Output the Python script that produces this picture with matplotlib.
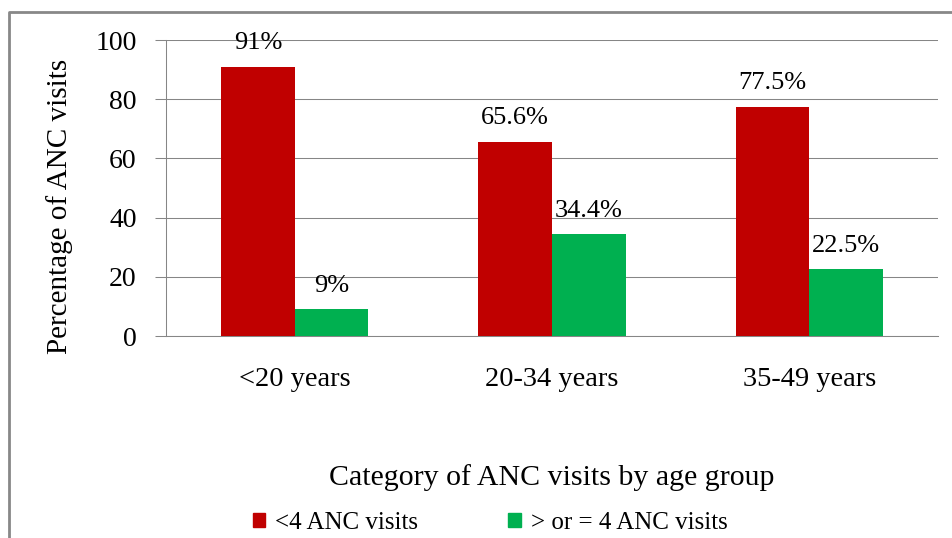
import matplotlib
matplotlib.use("Agg")
import matplotlib.pyplot as plt
from matplotlib.lines import Line2D
from matplotlib.patches import Patch
import numpy as np

# data
age_groups = ['<20 years', '20-34 years', '35-49 years']
less_than_4 = [91, 65.6, 77.5]
four_or_more = [9, 34.4, 22.5]
labels_less = ['91%', '65.6%', '77.5%']
labels_more = ['9%', '34.4%', '22.5%']
yticks = [0, 20, 40, 60, 80, 100]

red = '#C00000'
green = '#00B050'
grid_gray = '#868686'

plt.rcParams['font.family'] = ['Liberation Serif', 'DejaVu Serif']

W, H = 953, 538
fig = plt.figure(figsize=(W / 100, H / 100), dpi=100)
ax = fig.add_axes([166 / W, 1 - 336 / H, (938 - 166) / W, (336 - 40) / H])

x = np.arange(len(age_groups))
bw = 0.286
bars1 = ax.bar(x - bw / 2, less_than_4, bw, color=red, zorder=3)
bars2 = ax.bar(x + bw / 2, four_or_more, bw, color=green, zorder=3)

for bar, lab in zip(bars1, labels_less):
    ax.annotate(lab, (bar.get_x() + bar.get_width() / 2, bar.get_height()),
                xytext=(0, 17), textcoords='offset points',
                ha='center', va='center', fontsize=19)
for bar, lab in zip(bars2, labels_more):
    ax.annotate(lab, (bar.get_x() + bar.get_width() / 2, bar.get_height()),
                xytext=(0, 17), textcoords='offset points',
                ha='center', va='center', fontsize=19)

ax.set_xlim(-0.5, len(age_groups) - 0.5)
ax.set_ylim(0, 100)
ax.set_yticks(yticks)
ax.set_xticks(x)
ax.set_xticklabels(age_groups)
ax.tick_params(axis='y', length=8, width=0.75, color=grid_gray, pad=13, labelsize=20)
ax.tick_params(axis='x', length=0, pad=22, labelsize=20.5)
ax.grid(axis='y', color=grid_gray, linewidth=0.75, zorder=0)
for side in ['top', 'right']:
    ax.spines[side].set_visible(False)
for side in ['left', 'bottom']:
    ax.spines[side].set_color(grid_gray)
    ax.spines[side].set_linewidth(0.75)

fig.text(60 / W, 1 - 206 / H, 'Percentage of ANC visits', rotation=90,
         ha='center', va='center', fontsize=21)
fig.text(552 / W, 1 - 478 / H, 'Category of ANC visits by age group',
         ha='center', va='center', fontsize=21.5)

handles = [Patch(color=red), Patch(color=green)]
fig.legend(handles, ['<4 ANC visits', '> or = 4 ANC visits'],
           loc='center', bbox_to_anchor=(490 / W, 1 - 523 / H), ncol=2,
           frameon=False, fontsize=18, handlelength=0.5, handleheight=0.5,
           handletextpad=0.4, columnspacing=3.6)

# outer frame (left and top edges only)
fig.add_artist(Line2D([9 / W, 9 / W, 1], [0, 1 - 12 / H, 1 - 12 / H],
                      transform=fig.transFigure, color='#888888', linewidth=2))

fig.savefig('out.png', dpi=100)
